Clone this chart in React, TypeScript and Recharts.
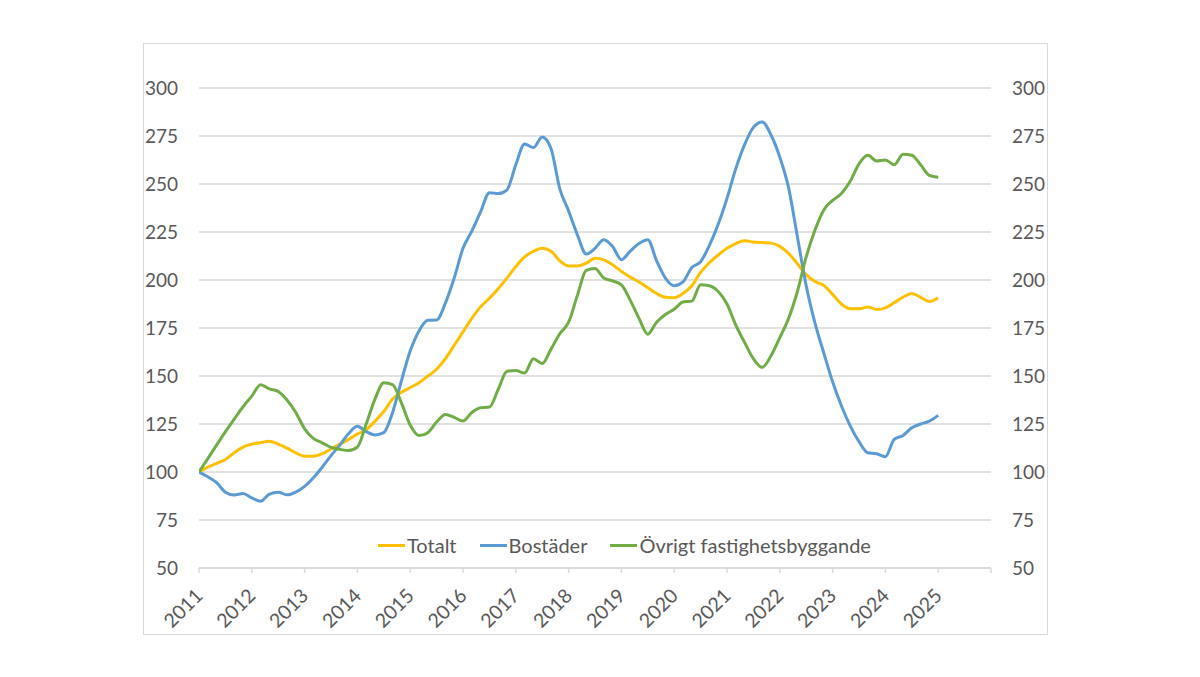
import React from 'react';
import { LineChart, Line, XAxis, YAxis, CartesianGrid, Legend } from 'recharts';

const periods = [
  '2011-01','2011-03','2011-05','2011-07','2011-09','2011-11',
  '2012-01','2012-03','2012-05','2012-07','2012-09','2012-11',
  '2013-01','2013-03','2013-05','2013-07','2013-09','2013-11',
  '2014-01','2014-03','2014-05','2014-07','2014-09','2014-11',
  '2015-01','2015-03','2015-05','2015-07','2015-09','2015-11',
  '2016-01','2016-03','2016-05','2016-07','2016-09','2016-11',
  '2017-01','2017-03','2017-05','2017-07','2017-09','2017-11',
  '2018-01','2018-03','2018-05','2018-07','2018-09','2018-11',
  '2019-01','2019-03','2019-05','2019-07','2019-09','2019-11',
  '2020-01','2020-03','2020-05','2020-07','2020-09','2020-11',
  '2021-01','2021-03','2021-05','2021-07','2021-09','2021-11',
  '2022-01','2022-03','2022-05','2022-07','2022-09','2022-11',
  '2023-01','2023-03','2023-05','2023-07','2023-09','2023-11',
  '2024-01','2024-03','2024-05','2024-07','2024-09','2024-11',
  '2025-01',
];

const totalt = [
  100, 102.5, 104.5, 106.5, 110, 113,
  114.5, 115.3, 116, 114.5, 112.4, 110,
  108.2, 108.2, 109.5, 112, 114.5, 117,
  119.8, 122, 126.5, 131.5, 138, 141.5,
  144, 146.5, 150, 153.5, 159, 166,
  173, 180, 186, 190.5, 195.5, 201,
  207, 212, 214.9, 216.5, 215, 210,
  207.3, 207.3, 208.8, 211.3, 210.5, 208,
  204.5, 201.5, 199, 196, 193, 191,
  190.8, 193, 197, 204, 209, 213,
  216.5, 219, 220.5, 219.8, 219.5, 219.2,
  217.5, 213.8, 208.5, 202.8, 199.2, 197.2,
  192.5, 187.5, 185, 185, 186, 184.6,
  185.5, 188.2, 191, 193, 191, 188.8,
  190.8,
];

const bostader = [
  100, 97.5, 94.5, 89.5, 88, 88.8,
  86.5, 84.8, 88.5, 89.5, 88.1, 89.5,
  92.5, 97, 102.5, 108.5, 114, 120,
  123.8, 121, 119.3, 120.5, 131, 147.5,
  163, 173.5, 179, 179.2, 188, 201,
  216.5, 225.5, 235.5, 245.5, 245, 247,
  260, 270.8, 269, 274.5, 268.5, 247.5,
  236, 223.5, 213.5, 216.5, 221, 217.5,
  210.6, 215, 219, 221, 210, 201,
  197, 199, 206.5, 209.5, 218, 229,
  242.5, 258, 270.5, 279.5, 282.3, 275.5,
  264, 248, 222.5, 197, 177.5, 162,
  147, 134.5, 124, 115.8, 110, 109.5,
  108, 117, 119, 123, 125, 126.5,
  129.5,
];

const ovrigt = [
  100, 107, 114, 121, 127.5, 134,
  139.5, 145.5, 143.3, 141.9, 137.5, 131,
  122.5, 117.5, 115.2, 112.8, 111.8, 111.2,
  113, 125, 138, 146.5, 145.5, 136,
  124.5, 119, 120.5, 126, 130, 128.5,
  126.5, 131, 133.5, 133.8, 143, 152.5,
  152.8, 151.5, 159, 156.5, 164, 172,
  178, 192, 205, 206, 201, 199.5,
  197.5, 189.5, 180, 171.8, 178, 182,
  184.8, 188.5, 189, 197.5, 197, 194,
  187.5, 176.5, 167.5, 159, 154.5, 160.5,
  170, 180, 194, 212, 226, 236.5,
  241.5, 245, 251.4, 260.5, 265, 262,
  262.5, 260, 265.5, 265, 260, 254.5,
  253.5,
];

const yearTicks = [2011, 2012, 2013, 2014, 2015, 2016, 2017, 2018, 2019, 2020, 2021, 2022, 2023, 2024, 2025, 2026];
const yTicks = [50, 75, 100, 125, 150, 175, 200, 225, 250, 275, 300];

const seriesNames = ['Totalt', 'Bostäder', 'Övrigt fastighetsbyggande'];
const seriesColors = ['#FFC000', '#5B9BD5', '#70AD47'];

const data = periods.map((p, i) => {
  const [yy, mm] = p.split('-').map(Number);
  return {
    t: yy + (mm - 1) / 12,
    totalt: totalt[i],
    bostader: bostader[i],
    ovrigt: ovrigt[i],
  };
});

const FONT = 'Lato, "Open Sans", sans-serif';
const TEXT = '#595959';
const GRID = '#d9d9d9';

const XTick = (props: any) => {
  const { x, y, payload } = props;
  if (payload.value > 2025) return null;
  const ax = x + 5;
  const ay = y + 24;
  return (
    <text
      x={ax}
      y={ay}
      transform={`rotate(-45, ${ax}, ${ay})`}
      textAnchor="end"
      fill={TEXT}
      fontSize={19.5}
      fontFamily={FONT}
    >
      {payload.value}
    </text>
  );
};

const LegendContent = () => (
  <div style={{ display: 'flex', alignItems: 'center', height: 24, fontFamily: FONT, fontSize: 20, color: TEXT, whiteSpace: 'nowrap' }}>
    {seriesNames.map((n, i) => (
      <div key={n} style={{ display: 'flex', alignItems: 'center', marginRight: i < seriesNames.length - 1 ? 23 : 0 }}>
        <span style={{ display: 'inline-block', width: 27, height: 3, background: seriesColors[i], marginRight: 2 }} />
        <span>{n}</span>
      </div>
    ))}
  </div>
);

export default function App() {
  return (
    <div style={{ position: 'relative', width: 1184, height: 661, background: '#fff' }}>
      <div
        style={{
          position: 'absolute',
          left: 135,
          top: 35,
          width: 905,
          height: 592,
          border: `1px solid ${GRID}`,
          boxSizing: 'border-box',
        }}
      />
      <div style={{ position: 'absolute', left: 135, top: 35 }}>
        <LineChart width={905} height={592} data={data} margin={{ top: 45, right: 0, bottom: 0, left: 0 }}>
          <CartesianGrid horizontal vertical={false} stroke={GRID} strokeWidth={1.5} yAxisId="left" />
          <XAxis
            dataKey="t"
            type="number"
            domain={[2011, 2026]}
            ticks={yearTicks}
            interval={0}
            height={67}
            axisLine={{ stroke: GRID, strokeWidth: 1.5 }}
            tickLine={{ stroke: GRID, strokeWidth: 1.5 }}
            tickSize={5}
            tickMargin={0}
            tick={<XTick />}
            allowDataOverflow
          />
          <YAxis
            yAxisId="left"
            orientation="left"
            type="number"
            domain={[50, 300]}
            ticks={yTicks}
            width={56}
            axisLine={false}
            tickLine={false}
            tickSize={0}
            tickMargin={21}
            tick={{ fill: TEXT, fontSize: 19, fontFamily: FONT }}
            interval={0}
          />
          <YAxis
            yAxisId="right"
            orientation="right"
            type="number"
            domain={[50, 300]}
            ticks={yTicks}
            width={57}
            axisLine={false}
            tickLine={false}
            tickSize={0}
            tickMargin={21}
            tick={{ fill: TEXT, fontSize: 19, fontFamily: FONT }}
            interval={0}
          />
          <Legend
            layout="horizontal"
            verticalAlign="middle"
            align="center"
            content={<LegendContent />}
            wrapperStyle={{ left: 235, top: 490, width: 'auto' }}
          />
          <Line yAxisId="left" type="monotone" dataKey="totalt" name={seriesNames[0]} stroke={seriesColors[0]} strokeWidth={3} dot={false} isAnimationActive={false} />
          <Line yAxisId="left" type="monotone" dataKey="bostader" name={seriesNames[1]} stroke={seriesColors[1]} strokeWidth={3} dot={false} isAnimationActive={false} />
          <Line yAxisId="right" type="monotone" dataKey="ovrigt" name={seriesNames[2]} stroke={seriesColors[2]} strokeWidth={3} dot={false} isAnimationActive={false} />
        </LineChart>
      </div>
    </div>
  );
}
